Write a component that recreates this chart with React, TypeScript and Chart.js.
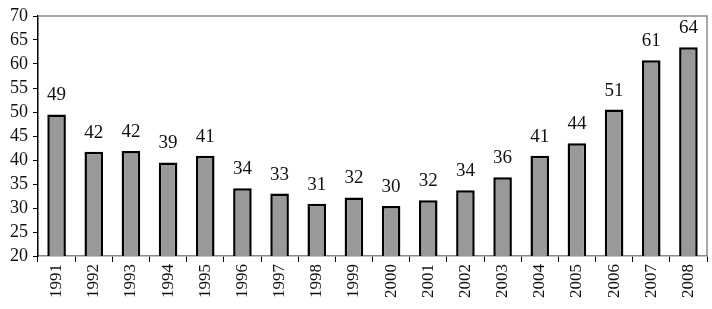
import React, { useEffect, useRef } from "react";
import { Chart, registerables } from "chart.js";

Chart.register(...registerables);

const categories = ["1991","1992","1993","1994","1995","1996","1997","1998","1999","2000","2001","2002","2003","2004","2005","2006","2007","2008"];
const values = [49.5, 41.7, 41.9, 39.5, 40.9, 34.1, 33.0, 30.9, 32.2, 30.4, 31.6, 33.7, 36.4, 40.9, 43.5, 50.5, 60.8, 63.5];
const valueLabels = ["49","42","42","39","41","34","33","31","32","30","32","34","36","41","44","51","61","64"];
const yTicks = [20, 25, 30, 35, 40, 45, 50, 55, 60, 65, 70];

const FONT = "'Liberation Serif', 'Times New Roman', serif";

const frameAndLabels = {
  id: "frameAndLabels",
  beforeDatasetsDraw(chart: any) {
    const { ctx, chartArea } = chart;
    ctx.save();
    ctx.strokeStyle = "#8a8a8a";
    ctx.lineWidth = 1.5;
    ctx.beginPath();
    ctx.moveTo(chartArea.left, chartArea.top);
    ctx.lineTo(chartArea.right, chartArea.top);
    ctx.lineTo(chartArea.right, chartArea.bottom);
    ctx.stroke();
    ctx.restore();
  },
  afterDatasetsDraw(chart: any) {
    const { ctx } = chart;
    const meta = chart.getDatasetMeta(0);
    ctx.save();
    ctx.fillStyle = "#111";
    ctx.font = `19px ${FONT}`;
    ctx.textAlign = "center";
    ctx.textBaseline = "middle";
    meta.data.forEach((bar: any, i: number) => {
      ctx.fillText(valueLabels[i], bar.x, bar.y - 19);
    });
    ctx.restore();
  },
};

export default function App() {
  const ref = useRef<HTMLCanvasElement>(null);
  useEffect(() => {
    document.body.style.margin = "0";
    const chart = new Chart(ref.current!, {
      type: "bar",
      data: {
        labels: categories,
        datasets: [
          {
            data: values,
            backgroundColor: "#999999",
            borderColor: "#000000",
            borderWidth: 2.5,
            borderSkipped: "bottom",
            barPercentage: 0.5,
            categoryPercentage: 1,
          },
        ],
      },
      options: {
        animation: false,
        responsive: false,
        maintainAspectRatio: false,
        layout: { padding: { left: 5, right: 5, top: 16, bottom: 9 } },
        plugins: { legend: { display: false }, tooltip: { enabled: false } },
        scales: {
          x: {
            grid: {
              display: true,
              drawOnChartArea: false,
              drawTicks: true,
              tickLength: 6,
              color: "#000",
              lineWidth: 1,
              offset: true,
            },
            border: { display: true, color: "#8a8a8a", width: 1.5 },
            ticks: {
              minRotation: 90,
              maxRotation: 90,
              autoSkip: false,
              color: "#111",
              font: { family: FONT, size: 17 },
              padding: 2,
            },
          },
          y: {
            min: 20,
            max: 70,
            afterBuildTicks(axis: any) {
              axis.ticks = yTicks.map((v) => ({ value: v }));
            },
            grid: {
              display: true,
              drawOnChartArea: false,
              drawTicks: true,
              tickLength: 5,
              color: "#000",
              lineWidth: 1,
            },
            border: { display: true, color: "#000", width: 1.5 },
            ticks: {
              autoSkip: false,
              stepSize: 5,
              color: "#111",
              font: { family: FONT, size: 18 },
              padding: 5,
            },
          },
        },
      },
      plugins: [frameAndLabels],
    });
    return () => chart.destroy();
  }, []);
  return (
    <div style={{ position: "absolute", left: 0, top: 0, width: 712, height: 309 }}>
      <canvas ref={ref} width={712} height={309} style={{ width: 712, height: 309, display: "block" }} />
    </div>
  );
}
